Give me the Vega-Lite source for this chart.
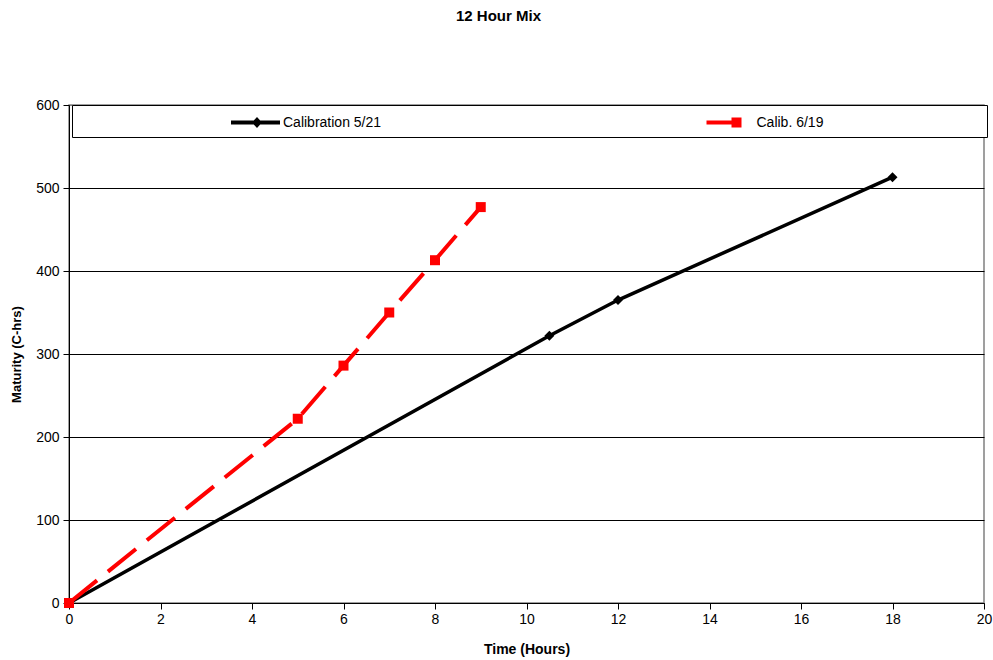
{
  "$schema": "https://vega.github.io/schema/vega-lite/v6.json",
  "width": 915,
  "height": 498,
  "autosize": "none",
  "padding": {"left": 69, "top": 105, "right": 9, "bottom": 57},
  "background": "white",
  "title": {"text": "12 Hour Mix", "font": "Liberation Sans", "fontSize": 15, "fontWeight": "bold", "color": "black", "anchor": "middle", "dx": -28, "offset": 74},
  "config": {
    "view": {"stroke": "#808080", "strokeWidth": 1.5},
    "font": "Liberation Sans"
  },
  "data": {"values": [
    {"series": "Calibration 5/21", "time": 0, "maturity": 0},
    {"series": "Calibration 5/21", "time": 10.5, "maturity": 322},
    {"series": "Calibration 5/21", "time": 12, "maturity": 365},
    {"series": "Calibration 5/21", "time": 18, "maturity": 513},
    {"series": "Calib. 6/19", "time": 0, "maturity": 0},
    {"series": "Calib. 6/19", "time": 5, "maturity": 222},
    {"series": "Calib. 6/19", "time": 6, "maturity": 286},
    {"series": "Calib. 6/19", "time": 7, "maturity": 350},
    {"series": "Calib. 6/19", "time": 8, "maturity": 413},
    {"series": "Calib. 6/19", "time": 9, "maturity": 477}
  ]},
  "encoding": {
    "x": {"field": "time", "type": "quantitative", "scale": {"domain": [0, 20], "nice": false},
      "axis": {"title": "Time (Hours)", "values": [0,2,4,6,8,10,12,14,16,18,20], "grid": false, "domainColor": "black", "tickColor": "black", "tickSize": 6, "labelPadding": 3, "labelFontSize": 14, "labelColor": "black", "labelFont": "Liberation Sans", "titleFont": "Liberation Sans", "titleFontSize": 14, "titleColor": "black", "titlePadding": 16, "labelFlush": false}},
    "y": {"field": "maturity", "type": "quantitative", "scale": {"domain": [0, 600], "nice": false},
      "axis": {"title": "Maturity (C-hrs)", "values": [0,100,200,300,400,500,600], "grid": true,
        "gridColor": {"condition": {"test": "datum.value === 600", "value": "#808080"}, "value": "black"},
        "gridWidth": 1, "domainColor": "black", "tickColor": "black", "tickSize": 6, "labelPadding": 4, "labelFontSize": 14, "labelColor": "black", "labelFont": "Liberation Sans", "titleFont": "Liberation Sans", "titleFontSize": 13, "titleColor": "black", "titlePadding": 12, "labelFlush": false}}
  },
  "layer": [
    {"transform": [{"filter": "datum.series === 'Calibration 5/21'"}],
     "mark": {"type": "line", "color": "black", "strokeWidth": 3.5, "interpolate": "linear"}},
    {"transform": [{"filter": "datum.series === 'Calib. 6/19'"}],
     "mark": {"type": "line", "color": "#ff0000", "strokeWidth": 4, "strokeDash": [36, 14]}},
    {"transform": [{"filter": "datum.series === 'Calibration 5/21'"}],
     "mark": {"type": "point", "shape": "diamond", "filled": true, "color": "black", "size": 100, "opacity": 1}},
    {"transform": [{"filter": "datum.series === 'Calib. 6/19'"}],
     "mark": {"type": "point", "shape": "square", "filled": true, "color": "#ff0000", "size": 100, "opacity": 1}},
    {"mark": {"type": "point", "filled": true, "opacity": 0},
     "encoding": {
       "color": {"field": "series", "type": "nominal", "sort": null,
         "scale": {"domain": ["Calibration 5/21", "Calib. 6/19"], "range": ["black", "#ff0000"]},
         "legend": {"title": null, "orient": "none", "legendX": 3, "legendY": 0, "direction": "horizontal",
           "fillColor": "white", "strokeColor": "black", "padding": 7.5, "symbolSize": 400,
           "symbolOffset": 166.5, "labelOffset": 17, "columnPadding": 171.5, "symbolOpacity": 1,
           "symbolStrokeWidth": 0, "labelFont": "Liberation Sans", "labelFontSize": 14, "labelColor": "black", "labelLimit": 300}},
       "shape": {"field": "series", "type": "nominal", "sort": null,
         "scale": {"domain": ["Calibration 5/21", "Calib. 6/19"],
           "range": ["M-2.5,-0.2H2.4V0.2H-2.5Z M0.1,-0.55L0.6,0L0.1,0.55L-0.4,0Z",
                     "M-2.3,-0.2H0.8V0.2H-2.3Z M0.2,-0.5H1.2V0.5H0.2Z M24.95,0"]},
         "legend": {"title": null, "orient": "none", "legendX": 3, "legendY": 0, "direction": "horizontal",
           "fillColor": "white", "strokeColor": "black", "padding": 7.5, "symbolSize": 400,
           "symbolOffset": 166.5, "labelOffset": 17, "columnPadding": 171.5, "symbolOpacity": 1,
           "symbolStrokeWidth": 0, "labelFont": "Liberation Sans", "labelFontSize": 14, "labelColor": "black", "labelLimit": 300}}
     }}
  ]
}
